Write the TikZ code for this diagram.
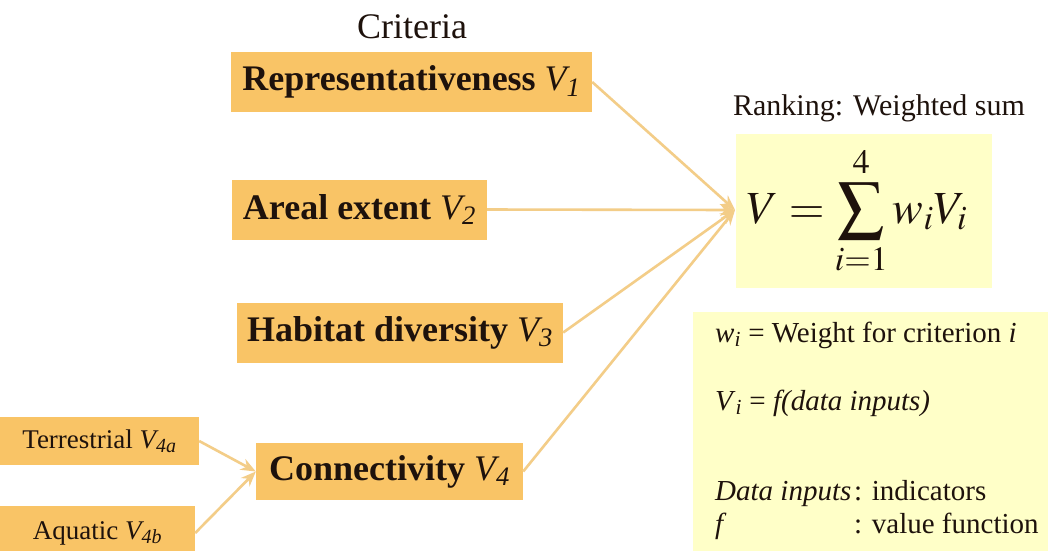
\documentclass[tikz,border=0pt]{standalone}
\usepackage{mathptmx}
\usepackage{fontspec}
\setmainfont{Liberation Serif}
\usetikzlibrary{arrows.meta}
\definecolor{boxfill}{HTML}{F9C466}
\definecolor{paleyellow}{HTML}{FFFFC8}
\definecolor{arrowcol}{HTML}{F3CD88}
\definecolor{ink}{HTML}{1E120C}
\newcommand{\critV}[1]{{\mdseries\itshape V\textsubscript{#1}}}
\begin{document}
\begin{tikzpicture}[x=1pt,y=-1pt,
  crit/.style={fill=boxfill, text=ink, inner sep=0pt, minimum height=60pt,
    font=\fontsize{36}{40}\selectfont\bfseries},
  subcrit/.style={fill=boxfill, text=ink, inner sep=0pt,
    font=\fontsize{27}{30}\selectfont},
  panel/.style={fill=paleyellow, inner sep=0pt},
  notetxt/.style={text=ink, inner sep=0pt, anchor=base west,
    font=\fontsize{29}{32}\selectfont},
  link/.style={draw=arrowcol, line width=2.6pt,
    -{Stealth[length=15pt,width=12pt]}}]
\useasboundingbox (0,0) rectangle (1048,550);
\clip (0,0) rectangle (1048,550);
\fill[white] (0,0) rectangle (1048,550);

% titles
\node[text=ink, font=\fontsize{36}{40}\selectfont] (crittitle) at (412,27) {Criteria};
\node[text=ink, font=\fontsize{30}{34}\selectfont] (ranktitle) at (879,108) {Ranking: Weighted sum};

% criteria boxes
\node[crit, minimum width=361pt] (rep) at (411.5,82) {Representativeness \critV{1}};
\node[crit, minimum width=255pt] (areal) at (359.5,209.5) {Areal extent \critV{2}};
\node[crit, minimum width=326pt] (hab) at (400,332.5) {Habitat diversity \critV{3}};
\node[crit, minimum width=267pt, minimum height=57pt] (con) at (389.5,471.5) {Connectivity \critV{4}};

% sub-criteria
\node[subcrit, minimum width=199pt, minimum height=48pt] (terr) at (99.5,441) {Terrestrial \critV{4a}};
\node[subcrit, minimum width=195pt, minimum height=54pt] (aq) at (97.5,533) {Aquatic \critV{4b}};

% formula panel
\node[panel, minimum width=256pt, minimum height=154pt, text=ink,
  font=\fontsize{46}{50}\selectfont] (formula) at (864,211)
  {\hspace*{-14pt}$\displaystyle V=\sum_{i=1}^{4} w_i V_i$};

% notes panel
\node[panel, minimum width=370pt, minimum height=250pt, anchor=north west] (notes) at (693,312) {};
\node[notetxt] (n1) at (715,342) {\textit{w}\textsubscript{\textit{i}} = Weight for criterion \textit{i}};
\node[notetxt] (n2) at (715,410) {\textit{V}\textsubscript{\textit{i}} = \textit{f(data inputs)}};
\node[notetxt] (n3) at (715,500) {\textit{Data inputs}};
\node[notetxt] (n3b) at (854,500) {: indicators};
\node[notetxt] (n4) at (715,533) {\textit{f}};
\node[notetxt] (n4b) at (854,533) {: value function};

% connectors
\coordinate (conv) at (735,210);
\draw[link] (rep.east) -- (conv);
\draw[link] (areal.east) -- (conv);
\draw[link] (hab.east) -- (conv);
\draw[link] (con.east) -- (conv);
\draw[link] (terr.east) -- (con.west);
\draw[link] (aq.east) -- (con.west);
\end{tikzpicture}
\end{document}
